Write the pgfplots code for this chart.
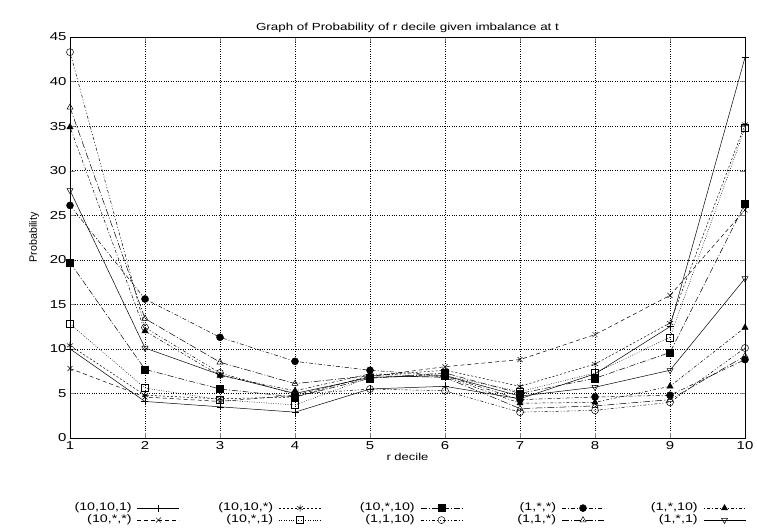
\documentclass[border=0pt]{standalone}
\usepackage{fontspec}
\setmainfont{Liberation Sans}
\newfontfamily\wide{Liberation Sans}[FakeStretch=1.3]
\usepackage{pgfplots}
\pgfplotsset{compat=1.18}

\pgfplotsset{
  gp/.style={black, line width=0.5pt, mark size=3.5pt, mark options={solid}},
}

\begin{document}
\fontsize{10}{12}\selectfont
\begin{tikzpicture}
\path[use as bounding box] (-70pt,-91pt) rectangle (687pt,438pt);
\begin{axis}[
    scale only axis,
    width=675pt, height=401pt,
    xmin=1, xmax=10, ymin=0, ymax=45,
    xtick={1,...,10}, ytick={0,5,...,45},
    tick align=inside,
    major tick length=5pt,
    grid=major,
    grid style={black, dotted, line width=0.5pt},
    axis line style={line width=0.8pt},
    /pgf/number format/assume math mode=true,
    ticklabel style={font=\wide\fontsize{11.5}{13}\selectfont},
    title={Graph of Probability of r decile given imbalance at t},
    title style={font=\wide\fontsize{10.3}{12}\selectfont, yshift=-5pt},
    xlabel={r decile},
    ylabel={Probability},
    xlabel style={font=\wide\fontsize{10}{12}\selectfont, yshift=3pt},
    ylabel style={font=\fontsize{10.7}{13}\selectfont, yshift=4pt},
    legend columns=2,
    transpose legend,
    legend plot pos=right,
    legend style={
      at={(0.5,-0.155)}, anchor=north, draw=none, fill=none,
      font=\wide\fontsize{11}{11}\selectfont,
      nodes={inner sep=0.5pt, text width=62pt, align=right, text height=8pt, text depth=2.5pt},
      row sep=0.5pt,
      /tikz/every odd column/.append style={column sep=5pt},
      /tikz/every even column/.append style={column sep=31pt},
    },
    legend image code/.code={
      \draw[mark repeat=2, mark phase=2, #1] plot coordinates {(0pt,0pt)(21pt,0pt)(42pt,0pt)};
    },
]
% (10,10,1)
\addplot[gp, solid, mark=+] coordinates {
 (1,10.0)(2,4.1)(3,3.5)(4,2.9)(5,5.5)(6,5.8)(7,4.4)(8,7.2)(9,12.5)(10,42.7)};
% (10,*,*)
\addplot[gp, dash pattern=on 4pt off 3pt, mark=x] coordinates {
 (1,7.8)(2,4.6)(3,4.1)(4,4.8)(5,6.9)(6,8.0)(7,8.8)(8,11.6)(9,16.0)(10,25.6)};
% (10,10,*)
\addplot[gp, dash pattern=on 2pt off 2pt, mark=asterisk] coordinates {
 (1,10.4)(2,4.8)(3,4.4)(4,4.6)(5,7.0)(6,7.6)(7,5.8)(8,8.3)(9,12.9)(10,35.2)};
% (10,*,1)
\addplot[gp, dash pattern=on 0.8pt off 1.6pt, mark=square] coordinates {
 (1,12.8)(2,5.6)(3,4.3)(4,3.7)(5,6.8)(6,7.0)(7,5.2)(8,7.3)(9,11.3)(10,34.8)};
% (10,*,10)
\addplot[gp, dash pattern=on 6pt off 2pt on 1pt off 2pt, mark=square*] coordinates {
 (1,19.7)(2,7.7)(3,5.5)(4,4.6)(5,6.7)(6,7.3)(7,5.0)(8,6.7)(9,9.6)(10,26.3)};
% (1,1,10)
\addplot[gp, dash pattern=on 3pt off 2pt on 1pt off 2pt on 1pt off 2pt, mark=o] coordinates {
 (1,43.3)(2,12.4)(3,7.3)(4,4.9)(5,5.5)(6,5.3)(7,2.9)(8,3.1)(9,4.0)(10,10.1)};
% (1,*,*)
\addplot[gp, dash pattern=on 4pt off 2pt on 1pt off 2pt, mark=*] coordinates {
 (1,26.1)(2,15.6)(3,11.3)(4,8.6)(5,7.6)(6,7.0)(7,4.3)(8,4.6)(9,4.8)(10,8.8)};
% (1,1,*)
\addplot[gp, dash pattern=on 7pt off 2pt on 1pt off 2pt, mark=triangle] coordinates {
 (1,37.1)(2,13.4)(3,8.5)(4,6.1)(5,7.0)(6,6.8)(7,3.3)(8,3.6)(9,4.3)(10,9.2)};
% (1,*,10)
\addplot[gp, dash pattern=on 1pt off 2pt on 3pt off 2pt, mark=triangle*] coordinates {
 (1,34.9)(2,12.0)(3,7.0)(4,5.3)(5,7.2)(6,6.9)(7,3.9)(8,4.0)(9,5.8)(10,12.4)};
% (1,*,1)
\addplot[gp, solid, mark=triangle, mark options={rotate=180}] coordinates {
 (1,27.8)(2,10.1)(3,7.1)(4,5.0)(5,6.8)(6,7.0)(7,4.7)(8,5.7)(9,7.6)(10,17.9)};
\legend{(10,10,1),(10,*,*),(10,10,*),(10,*,1),(10,*,10),(1,1,10),(1,*,*),(1,1,*),(1,*,10),(1,*,1)}
\end{axis}
\end{tikzpicture}
\end{document}
